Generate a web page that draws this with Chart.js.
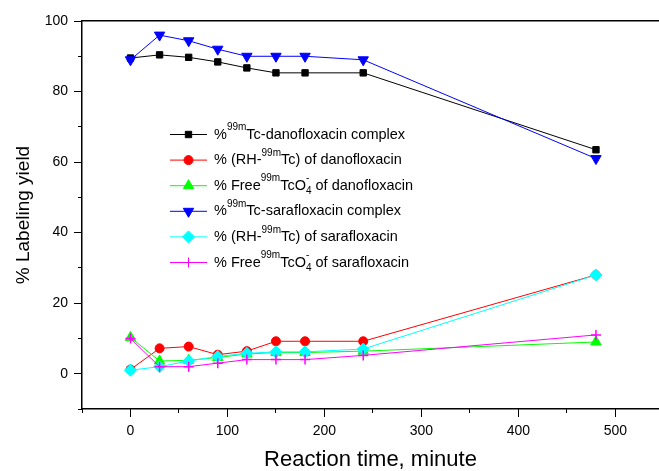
<!DOCTYPE html>
<html>
<head>
<meta charset="utf-8">
<script src="https://cdn.jsdelivr.net/npm/chart.js@4"></script>
<style>
  html, body { margin: 0; padding: 0; background: #fff; }
  #wrap { width: 659px; height: 471px; position: relative; }
</style>
</head>
<body>
<div id="wrap"><canvas id="yield" width="659" height="471"></canvas></div>
<script>
// reaction time, minute
const times = [0, 30, 60, 90, 120, 150, 180, 240, 480];

const danoComplex = [89.5, 90.4, 89.7, 88.4, 86.7, 85.3, 85.3, 85.3, 63.5];
const danoRH      = [1.2, 7.2, 7.7, 5.4, 6.4, 9.2, 9.2, 9.2, 28];
const danoFree    = [10.3, 3.6, 3.8, 4.6, 5.6, 6.0, 6.0, 6.4, 9.0];
const saraComplex = [89, 96, 94.4, 92, 90, 90, 90, 89, 61];
const saraRH      = [1, 2, 3.6, 4.9, 5.8, 6.2, 6.2, 7, 28];
const saraFree    = [10, 2, 2, 3, 4, 4, 4, 5.2, 11];

// labelled tick values
const xTickValues = [0, 100, 200, 300, 400, 500];
const yTickValues = [0, 20, 40, 60, 80, 100];

// legend text pieces: [text, kind] where kind is n (normal), sup, sub
const legendLabels = [
  [['%', 'n'], ['99m', 'sup'], ['Tc-danofloxacin complex', 'n']],
  [['% (RH-', 'n'], ['99m', 'sup'], ['Tc) of danofloxacin', 'n']],
  [['% Free', 'n'], ['99m', 'sup'], ['TcO', 'n'], ['4', 'sub'], ['-', 'sup'], [' of danofloxacin', 'n']],
  [['%', 'n'], ['99m', 'sup'], ['Tc-sarafloxacin complex', 'n']],
  [['% (RH-', 'n'], ['99m', 'sup'], ['Tc) of sarafloxacin', 'n']],
  [['% Free', 'n'], ['99m', 'sup'], ['TcO', 'n'], ['4', 'sub'], ['-', 'sup'], [' of sarafloxacin', 'n']]
];

const FONT = 'Arial, "Liberation Sans", sans-serif';

function series(values, color, style, radius, order, rotation) {
  return {
    data: times.map((t, i) => ({ x: t, y: values[i] })),
    borderColor: color,
    backgroundColor: color,
    borderWidth: 1,
    pointStyle: style,
    pointRadius: radius,
    pointHoverRadius: radius,
    pointRotation: rotation || 0,
    pointBorderWidth: style === 'cross' ? 1.5 : 1,
    order: order
  };
}

const legendPlugin = {
  id: 'supLegend',
  afterDatasetsDraw(chart) {
    const ctx = chart.ctx;
    const area = chart.chartArea;
    const x0 = area.left + 88;
    let y = area.top + 113.5;
    ctx.save();
    chart.data.datasets.forEach((ds, i) => {
      ctx.strokeStyle = ds.borderColor;
      ctx.lineWidth = 1;
      ctx.beginPath();
      ctx.moveTo(x0, y);
      ctx.lineTo(x0 + 37, y);
      ctx.stroke();
      ctx.fillStyle = ds.backgroundColor;
      Chart.helpers.drawPoint(ctx, {
        pointStyle: ds.pointStyle, radius: ds.pointRadius, rotation: ds.pointRotation,
        borderWidth: ds.pointBorderWidth
      }, x0 + 18.5, y);

      let tx = x0 + 44;
      let subX = null;
      ctx.fillStyle = '#000';
      ctx.textBaseline = 'middle';
      ctx.textAlign = 'left';
      legendLabels[i].forEach(([txt, kind]) => {
        if (kind === 'n') {
          ctx.font = '14.5px ' + FONT;
          ctx.fillText(txt, tx, y);
          tx += ctx.measureText(txt).width;
          subX = null;
        } else if (kind === 'sup') {
          ctx.font = '10px ' + FONT;
          const sx = subX !== null ? subX : tx;
          ctx.fillText(txt, sx, y - 7);
          tx = Math.max(tx, sx + ctx.measureText(txt).width);
        } else {
          ctx.font = '10px ' + FONT;
          subX = tx;
          ctx.fillText(txt, tx, y + 6);
          tx += ctx.measureText(txt).width;
        }
      });
      y += 25.6;
    });
    ctx.restore();
  }
};

// axis with only short minor tick marks, sitting right against the plot
function minorAxis(position, min, max, step) {
  return {
    type: 'linear',
    position: position,
    min: min,
    max: max,
    weight: -1,
    border: { display: false },
    grid: { drawOnChartArea: false, drawTicks: true, tickLength: 4, color: '#000', lineWidth: 1 },
    ticks: { stepSize: step, includeBounds: false, autoSkip: false, maxRotation: 0, callback: () => '' },
    afterFit: s => {
      if (position === 'bottom') s.height = 0; else s.width = 0;
    }
  };
}

new Chart(document.getElementById('yield'), {
  type: 'line',
  data: {
    datasets: [
      series(danoComplex, '#000000', 'rect', 4.5, 5),
      series(danoRH, '#ff0000', 'circle', 4.5, 4),
      series(danoFree, '#00ff00', 'triangle', 6, 3),
      series(saraComplex, '#0000ff', 'triangle', 6, 2, 180),
      series(saraRH, '#00ffff', 'rectRot', 6, 1),
      series(saraFree, '#ff00ff', 'cross', 5, 0)
    ]
  },
  options: {
    responsive: false,
    animation: false,
    layout: { padding: 0, autoPadding: false },
    plugins: { legend: { display: false }, tooltip: { enabled: false } },
    elements: { line: { tension: 0 } },
    scales: {
      x: {
        type: 'linear',
        min: -50,
        max: 545,
        position: 'bottom',
        weight: 1,
        border: { display: true, color: '#000', width: 1.5 },
        grid: { drawOnChartArea: false, drawTicks: true, tickLength: 8, color: '#000', lineWidth: 1 },
        afterBuildTicks: s => { s.ticks = xTickValues.map(v => ({ value: v })); },
        ticks: {
          color: '#000',
          padding: 6,
          font: { family: FONT, size: 14 },
          maxRotation: 0,
          autoSkip: false
        },
        title: {
          display: true,
          text: 'Reaction time, minute',
          color: '#000',
          font: { family: FONT, size: 22 },
          padding: { top: 0, bottom: -2 }
        },
        afterFit: s => { s.height = 62; }
      },
      xMinor: minorAxis('bottom', -50, 545, 50),
      xTop: {
        type: 'linear',
        min: -50,
        max: 545,
        position: 'top',
        border: { display: true, color: '#000', width: 1.5 },
        grid: { display: false },
        ticks: { display: false },
        afterFit: s => { s.height = 21; }
      },
      y: {
        min: -10,
        max: 100,
        weight: 1,
        border: { display: true, color: '#000', width: 1.5 },
        grid: { drawOnChartArea: false, drawTicks: true, tickLength: 8, color: '#000', lineWidth: 1 },
        afterBuildTicks: s => { s.ticks = yTickValues.map(v => ({ value: v })); },
        ticks: {
          color: '#000',
          padding: 6,
          font: { family: FONT, size: 14 },
          autoSkip: false
        },
        title: {
          display: true,
          text: '% Labeling yield',
          color: '#000',
          font: { family: FONT, size: 19 },
          padding: { top: 12, bottom: 0 }
        },
        afterFit: s => { s.width = 82; }
      },
      yMinor: minorAxis('left', -10, 100, 10)
    }
  },
  plugins: [legendPlugin]
});
</script>
</body>
</html>
